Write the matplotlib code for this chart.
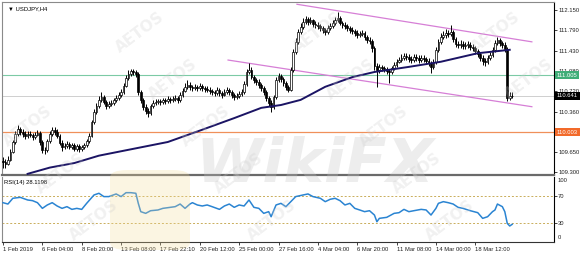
import matplotlib
matplotlib.use('Agg')
import matplotlib.pyplot as plt
import matplotlib.transforms as mtransforms
from matplotlib.patches import FancyBboxPatch
import numpy as np

plt.rcParams['font.family'] = ['Liberation Sans', 'DejaVu Sans']

# USDJPY H4 candles, 1 Feb - 19 Mar 2019
closes = [109.48, 109.45, 109.52, 109.66, 109.83, 109.97, 110.06, 110.01, 109.97, 109.94,
          109.97, 109.96, 109.92, 109.96, 109.99, 109.83, 109.69, 109.69, 109.85, 109.97,
          110.04, 110.01, 109.94, 109.82, 109.74, 109.76, 109.80, 109.74, 109.78, 109.71,
          109.76, 109.71, 109.74, 109.78, 109.85, 109.94, 110.18, 110.36, 110.46, 110.57,
          110.62, 110.53, 110.46, 110.50, 110.52, 110.57, 110.60, 110.66, 110.71, 110.82,
          110.96, 111.03, 111.08, 111.06, 111.03, 110.71, 110.57, 110.45, 110.38, 110.34,
          110.46, 110.52, 110.53, 110.55, 110.53, 110.57, 110.55, 110.59, 110.57, 110.59,
          110.60, 110.57, 110.66, 110.73, 110.80, 110.83, 110.80, 110.78, 110.80, 110.78,
          110.82, 110.78, 110.76, 110.75, 110.73, 110.71, 110.69, 110.75, 110.69, 110.66,
          110.71, 110.75, 110.71, 110.66, 110.62, 110.64, 110.67, 110.71, 110.85, 111.06,
          111.10, 110.97, 110.92, 110.89, 110.83, 110.78, 110.71, 110.60, 110.52, 110.45,
          110.62, 110.92, 110.99, 110.94, 110.87, 110.80, 110.75, 111.10, 111.41, 111.59,
          111.76, 111.85, 111.94, 111.99, 111.94, 111.97, 111.90, 111.89, 111.87, 111.83,
          111.80, 111.76, 111.83, 111.87, 111.92, 111.97, 112.01, 111.92, 111.89, 111.87,
          111.83, 111.80, 111.78, 111.75, 111.71, 111.73, 111.75, 111.68, 111.62, 111.61,
          111.48, 111.17, 111.10, 111.15, 111.13, 111.11, 111.08, 111.06, 111.13, 111.18,
          111.24, 111.27, 111.31, 111.34, 111.32, 111.29, 111.27, 111.32, 111.31, 111.27,
          111.31, 111.29, 111.25, 111.22, 111.15, 111.24, 111.45, 111.59, 111.68, 111.71,
          111.75, 111.73, 111.76, 111.64, 111.55, 111.54, 111.55, 111.52, 111.54, 111.54,
          111.50, 111.48, 111.43, 111.38, 111.31, 111.25, 111.24, 111.31, 111.36, 111.45,
          111.57, 111.62, 111.57, 111.54, 111.47, 110.60, 110.63, 110.64]
highs = [109.56, 109.53, 109.58, 109.70, 109.87, 110.02, 110.13, 110.10, 110.05, 110.02,
         110.03, 110.02, 109.99, 110.01, 110.04, 110.02, 109.86, 109.75, 109.88, 110.02,
         110.10, 110.09, 110.05, 109.97, 109.86, 109.81, 109.84, 109.83, 109.82, 109.81,
         109.80, 109.79, 109.78, 109.82, 109.89, 109.98, 110.22, 110.41, 110.52, 110.63,
         110.70, 110.66, 110.57, 110.55, 110.57, 110.61, 110.65, 110.70, 110.76, 110.87,
         111.00, 111.09, 111.12, 111.11, 111.10, 111.06, 110.75, 110.61, 110.50, 110.42,
         110.50, 110.56, 110.58, 110.59, 110.59, 110.61, 110.60, 110.64, 110.62, 110.63,
         110.65, 110.64, 110.70, 110.78, 110.86, 110.92, 110.88, 110.84, 110.85, 110.84,
         110.87, 110.85, 110.82, 110.81, 110.79, 110.77, 110.75, 110.80, 110.78, 110.73,
         110.76, 110.80, 110.78, 110.74, 110.69, 110.69, 110.72, 110.76, 110.90, 111.12,
         111.22, 111.14, 111.01, 110.96, 110.93, 110.87, 110.82, 110.74, 110.64, 110.56,
         110.66, 110.97, 111.05, 111.03, 110.97, 110.91, 110.84, 111.15, 111.47, 111.65,
         111.82, 111.92, 112.01, 112.05, 112.03, 112.02, 112.00, 111.95, 111.93, 111.91,
         111.87, 111.84, 111.88, 111.92, 111.97, 112.03, 112.12, 112.05, 111.96, 111.93,
         111.91, 111.87, 111.85, 111.82, 111.79, 111.78, 111.80, 111.78, 111.71, 111.67,
         111.64, 111.51, 111.21, 111.20, 111.19, 111.17, 111.15, 111.12, 111.17, 111.23,
         111.29, 111.33, 111.37, 111.40, 111.39, 111.37, 111.34, 111.38, 111.37, 111.35,
         111.36, 111.35, 111.33, 111.30, 111.26, 111.29, 111.50, 111.64, 111.75, 111.78,
         111.82, 111.80, 111.89, 111.80, 111.68, 111.61, 111.62, 111.60, 111.59, 111.60,
         111.58, 111.55, 111.52, 111.47, 111.42, 111.35, 111.31, 111.36, 111.41, 111.50,
         111.63, 111.68, 111.66, 111.61, 111.58, 111.50, 110.70, 110.70]
lows = [109.38, 109.37, 109.42, 109.49, 109.63, 109.80, 109.93, 109.96, 109.92, 109.89,
        109.90, 109.91, 109.87, 109.89, 109.93, 109.78, 109.64, 109.62, 109.66, 109.82,
        109.94, 109.96, 109.90, 109.77, 109.68, 109.70, 109.72, 109.70, 109.70, 109.67,
        109.68, 109.66, 109.68, 109.71, 109.75, 109.82, 109.91, 110.15, 110.32, 110.43,
        110.54, 110.49, 110.41, 110.42, 110.46, 110.48, 110.53, 110.56, 110.62, 110.68,
        110.79, 110.92, 110.99, 111.01, 110.98, 110.66, 110.52, 110.40, 110.32, 110.27,
        110.30, 110.42, 110.48, 110.49, 110.48, 110.50, 110.50, 110.52, 110.52, 110.53,
        110.55, 110.51, 110.54, 110.62, 110.70, 110.77, 110.75, 110.73, 110.74, 110.73,
        110.75, 110.73, 110.71, 110.70, 110.68, 110.66, 110.64, 110.66, 110.64, 110.61,
        110.63, 110.68, 110.66, 110.61, 110.57, 110.58, 110.60, 110.63, 110.68, 110.82,
        111.02, 110.93, 110.87, 110.84, 110.78, 110.72, 110.66, 110.55, 110.46, 110.36,
        110.41, 110.58, 110.88, 110.89, 110.82, 110.75, 110.70, 110.72, 111.06, 111.37,
        111.55, 111.72, 111.81, 111.90, 111.89, 111.90, 111.85, 111.84, 111.82, 111.78,
        111.74, 111.71, 111.73, 111.80, 111.84, 111.89, 111.94, 111.88, 111.84, 111.82,
        111.78, 111.75, 111.73, 111.70, 111.66, 111.67, 111.69, 111.63, 111.57, 111.55,
        111.42, 111.10, 110.80, 111.04, 111.08, 111.06, 111.02, 110.86, 111.02, 111.10,
        111.15, 111.21, 111.24, 111.27, 111.27, 111.24, 111.22, 111.23, 111.26, 111.22,
        111.23, 111.24, 111.20, 111.16, 111.04, 111.11, 111.20, 111.41, 111.55, 111.64,
        111.66, 111.68, 111.70, 111.59, 111.50, 111.49, 111.49, 111.47, 111.47, 111.48,
        111.45, 111.43, 111.38, 111.33, 111.26, 111.19, 111.17, 111.20, 111.27, 111.33,
        111.42, 111.53, 111.52, 111.49, 111.42, 110.55, 110.57, 110.60]
first_open = 109.50
opens = [first_open] + closes[:-1]

# moving average (bar index, value)
ma_bar = [10, 19, 29, 39, 53, 67, 80, 94, 105, 113, 121, 131, 142, 151, 165, 178, 193, 206]
ma_val = [109.27, 109.38, 109.46, 109.59, 109.71, 109.83, 110.03, 110.25, 110.43, 110.48,
          110.57, 110.80, 110.97, 111.06, 111.15, 111.24, 111.39, 111.45]

# channel lines (bar index, price)
upper_ch = ([119.5, 215], [112.25, 111.59])
lower_ch = ([91.5, 215], [111.27, 110.45])

level_green = 111.005
level_orange = 110.003
bid = 110.641

# RSI(14)
rsi_bar = [0, 2, 4, 7, 10, 12, 14, 16, 18, 20, 22, 24, 26, 28, 30, 32, 34, 37, 39, 41,
           43, 46, 48, 50, 52, 54, 55, 56, 58, 60, 63, 65, 68, 70, 72, 74, 76, 77, 79, 81,
           83, 85, 88, 90, 92, 94, 96, 98, 100, 102, 104, 106, 108, 109, 111, 113, 115, 117, 119, 122,
           124, 126, 129, 131, 133, 135, 137, 139, 141, 143, 145, 147, 149, 151, 152, 153, 156, 159, 161, 163,
           165, 167, 170, 172, 174, 176, 177, 179, 181, 183, 185, 187, 190, 193, 195, 197, 199, 200, 201, 203,
           204, 205, 206, 207]
rsi_val = [60.1, 58.1, 66.6, 68.0, 64.1, 63.1, 60.1, 51.7, 56.7, 60.1,
           55.2, 51.7, 54.2, 50.2, 51.7, 50.2, 59.1, 71.5, 74.0, 69.1,
           69.1, 73.0, 69.1, 74.9, 74.9, 74.0, 59.1, 46.8, 44.3, 48.2,
           49.3, 51.7, 53.2, 54.2, 58.1, 51.7, 58.1, 60.1, 56.7, 55.2,
           56.7, 54.2, 50.2, 55.2, 58.1, 53.2, 56.7, 55.2, 64.1, 53.2,
           51.7, 44.3, 46.8, 39.3, 56.7, 59.1, 54.2, 61.6, 69.1, 71.5,
           73.0, 69.1, 66.6, 61.6, 65.1, 66.6, 63.1, 56.7, 59.1, 51.7,
           49.3, 46.8, 48.2, 41.8, 31.9, 36.9, 38.4, 44.3, 45.3, 50.2,
           46.8, 48.2, 50.2, 49.3, 41.8, 51.7, 59.1, 61.6, 60.1, 58.1,
           53.2, 51.7, 48.2, 45.3, 36.9, 39.3, 46.8, 49.3, 58.1, 54.2,
           46.8, 29.5, 25.6, 28.1]

price_ticks = [112.150, 111.790, 111.430, 111.080, 110.720, 110.360, 110.000, 109.650, 109.300]
price_tick_labels = ['112.150', '111.790', '111.430', '111.080', '110.720', '110.360', '110.000', '109.650', '109.300']
time_ticks = [0, 16, 32, 48, 64, 80, 96, 112, 128, 144, 160, 176, 192]
time_labels = ['1 Feb 2019', '6 Feb 04:00', '8 Feb 20:00', '13 Feb 08:00', '17 Feb 22:10', '20 Feb 12:00',
               '25 Feb 00:00', '27 Feb 16:00', '4 Mar 04:00', '6 Mar 20:00', '11 Mar 08:00',
               '14 Mar 00:00', '18 Mar 12:00']

fs = 4.2
fig = plt.figure(figsize=(5.8, 2.57), dpi=100)
ax = fig.add_axes([2/580, 1-175/257, 552/580, 173/257])
ax2 = fig.add_axes([2/580, 1-242/257, 552/580, 65/257], sharex=ax)

# candles
x = np.arange(len(closes))
o = np.array(opens)
c = np.array(closes)
up = c >= o
ax.vlines(x, lows, highs, color='black', lw=0.7, zorder=3)
bot = np.minimum(o, c)
h = np.maximum(np.abs(c - o), 0.008)
ax.bar(x[up], h[up], bottom=bot[up], width=0.72, facecolor='white', edgecolor='black', linewidth=0.5, zorder=4)
ax.bar(x[~up], h[~up], bottom=bot[~up], width=0.72, facecolor='black', edgecolor='black', linewidth=0.5, zorder=4)

ax.plot(ma_bar, ma_val, color='#1b1464', lw=1.4, zorder=5, solid_joinstyle='round')
ax.plot(*upper_ch, color='#d67fd6', lw=0.9, zorder=2)
ax.plot(*lower_ch, color='#d67fd6', lw=0.9, zorder=2)

ax.axhline(level_green, color='#7ccaa5', lw=0.8, zorder=1)
ax.axhline(level_orange, color='#f0905a', lw=0.9, zorder=1)
ax.axhline(bid, color='#cfcfcf', lw=0.7, zorder=1)

ax.set_xlim(-0.41, 224.0)
ax.set_ylim(109.25, 112.29)
ax.yaxis.tick_right()
ax.set_yticks(price_ticks)
ax.set_yticklabels(price_tick_labels)
ax.tick_params(axis='y', labelsize=fs, length=2, width=0.6, pad=1, colors='#222222')
ax.tick_params(axis='x', bottom=False, labelbottom=False)

tr = mtransforms.blended_transform_factory(ax.transAxes, ax.transData)
for price, txt, bg in [(level_green, '111.005', '#3fae78'), (bid, '110.641', '#000000'),
                       (level_orange, '110.003', '#f26a2a')]:
    ax.text(1.005, price, txt, transform=tr, fontsize=fs, color='white', va='center', ha='left',
            bbox=dict(boxstyle='square,pad=0.3', fc=bg, ec='none'), zorder=6, clip_on=False)

ax.text(0.01, 0.975, '\u25bc USDJPY,H4', transform=ax.transAxes, fontsize=fs, va='top', ha='left')

for name, sp in ax.spines.items():
    sp.set_linewidth(0.8)
    sp.set_color('#8a8a8a')
ax.spines['right'].set_color('black')
ax.spines['bottom'].set_color('#6a6a6a')
ax.spines['bottom'].set_linewidth(1.6)

# RSI panel
ax2.plot(rsi_bar, rsi_val, color='#2a84d2', lw=1.1, zorder=3)
for lvl in (70, 30):
    ax2.axhline(lvl, color='#c9ad5a', ls=(0, (2, 2)), lw=0.7, zorder=1)
ax2.set_ylim(1.9, 98.1)
ax2.yaxis.tick_right()
ax2.set_yticks([70, 30])
ax2.set_yticklabels(['70', '30'])
ax2.tick_params(axis='y', labelsize=fs, length=2, width=0.6, pad=1, colors='#222222')
ax2.text(1.007, 0.99, '100', transform=ax2.transAxes, fontsize=fs, va='top', ha='left', color='#222222')
ax2.text(1.007, 0.03, '0', transform=ax2.transAxes, fontsize=fs, va='bottom', ha='left', color='#222222')
ax2.text(0.004, 0.96, 'RSI(14) 28.1198', transform=ax2.transAxes, fontsize=fs, va='top', ha='left')
ax2.set_xticks(time_ticks)
ax2.set_xticklabels(time_labels, ha='left')
ax2.tick_params(axis='x', labelsize=fs, length=2, width=0.6, pad=1.5, colors='#222222')
for name, sp in ax2.spines.items():
    sp.set_linewidth(0.8)
    sp.set_color('#8a8a8a')
ax2.spines['top'].set_visible(False)
ax2.spines['right'].set_color('black')
ax2.spines['bottom'].set_color('#333333')

# watermarks
logo = FancyBboxPatch((110/580, 1-250/257), 80/580, 80/257, boxstyle='round,pad=0,rounding_size=0.03',
                      transform=fig.transFigure, fc='#f3dc9a', ec='none', alpha=0.28, zorder=20)
fig.patches.append(logo)
fig.text(315/580, 1-165/257, 'WikiFX', fontsize=44, fontweight='bold', style='italic',
         color='#c4c4c4', alpha=0.3, ha='center', va='center', zorder=21, family='DejaVu Sans')
for col in range(-1, 4):
    for row in range(-1, 6):
        px = 140 + col * 178 + row * 33
        py = 32 + row * 47
        if 0 < px < 560 and 0 < py < 257:
            fig.text(px/580, 1-py/257, 'AETOS', fontsize=11, fontweight='bold', color='#cccccc',
                     alpha=0.28, rotation=37, ha='center', va='center', zorder=21, family='DejaVu Sans')

fig.savefig('out.png', dpi=100)
